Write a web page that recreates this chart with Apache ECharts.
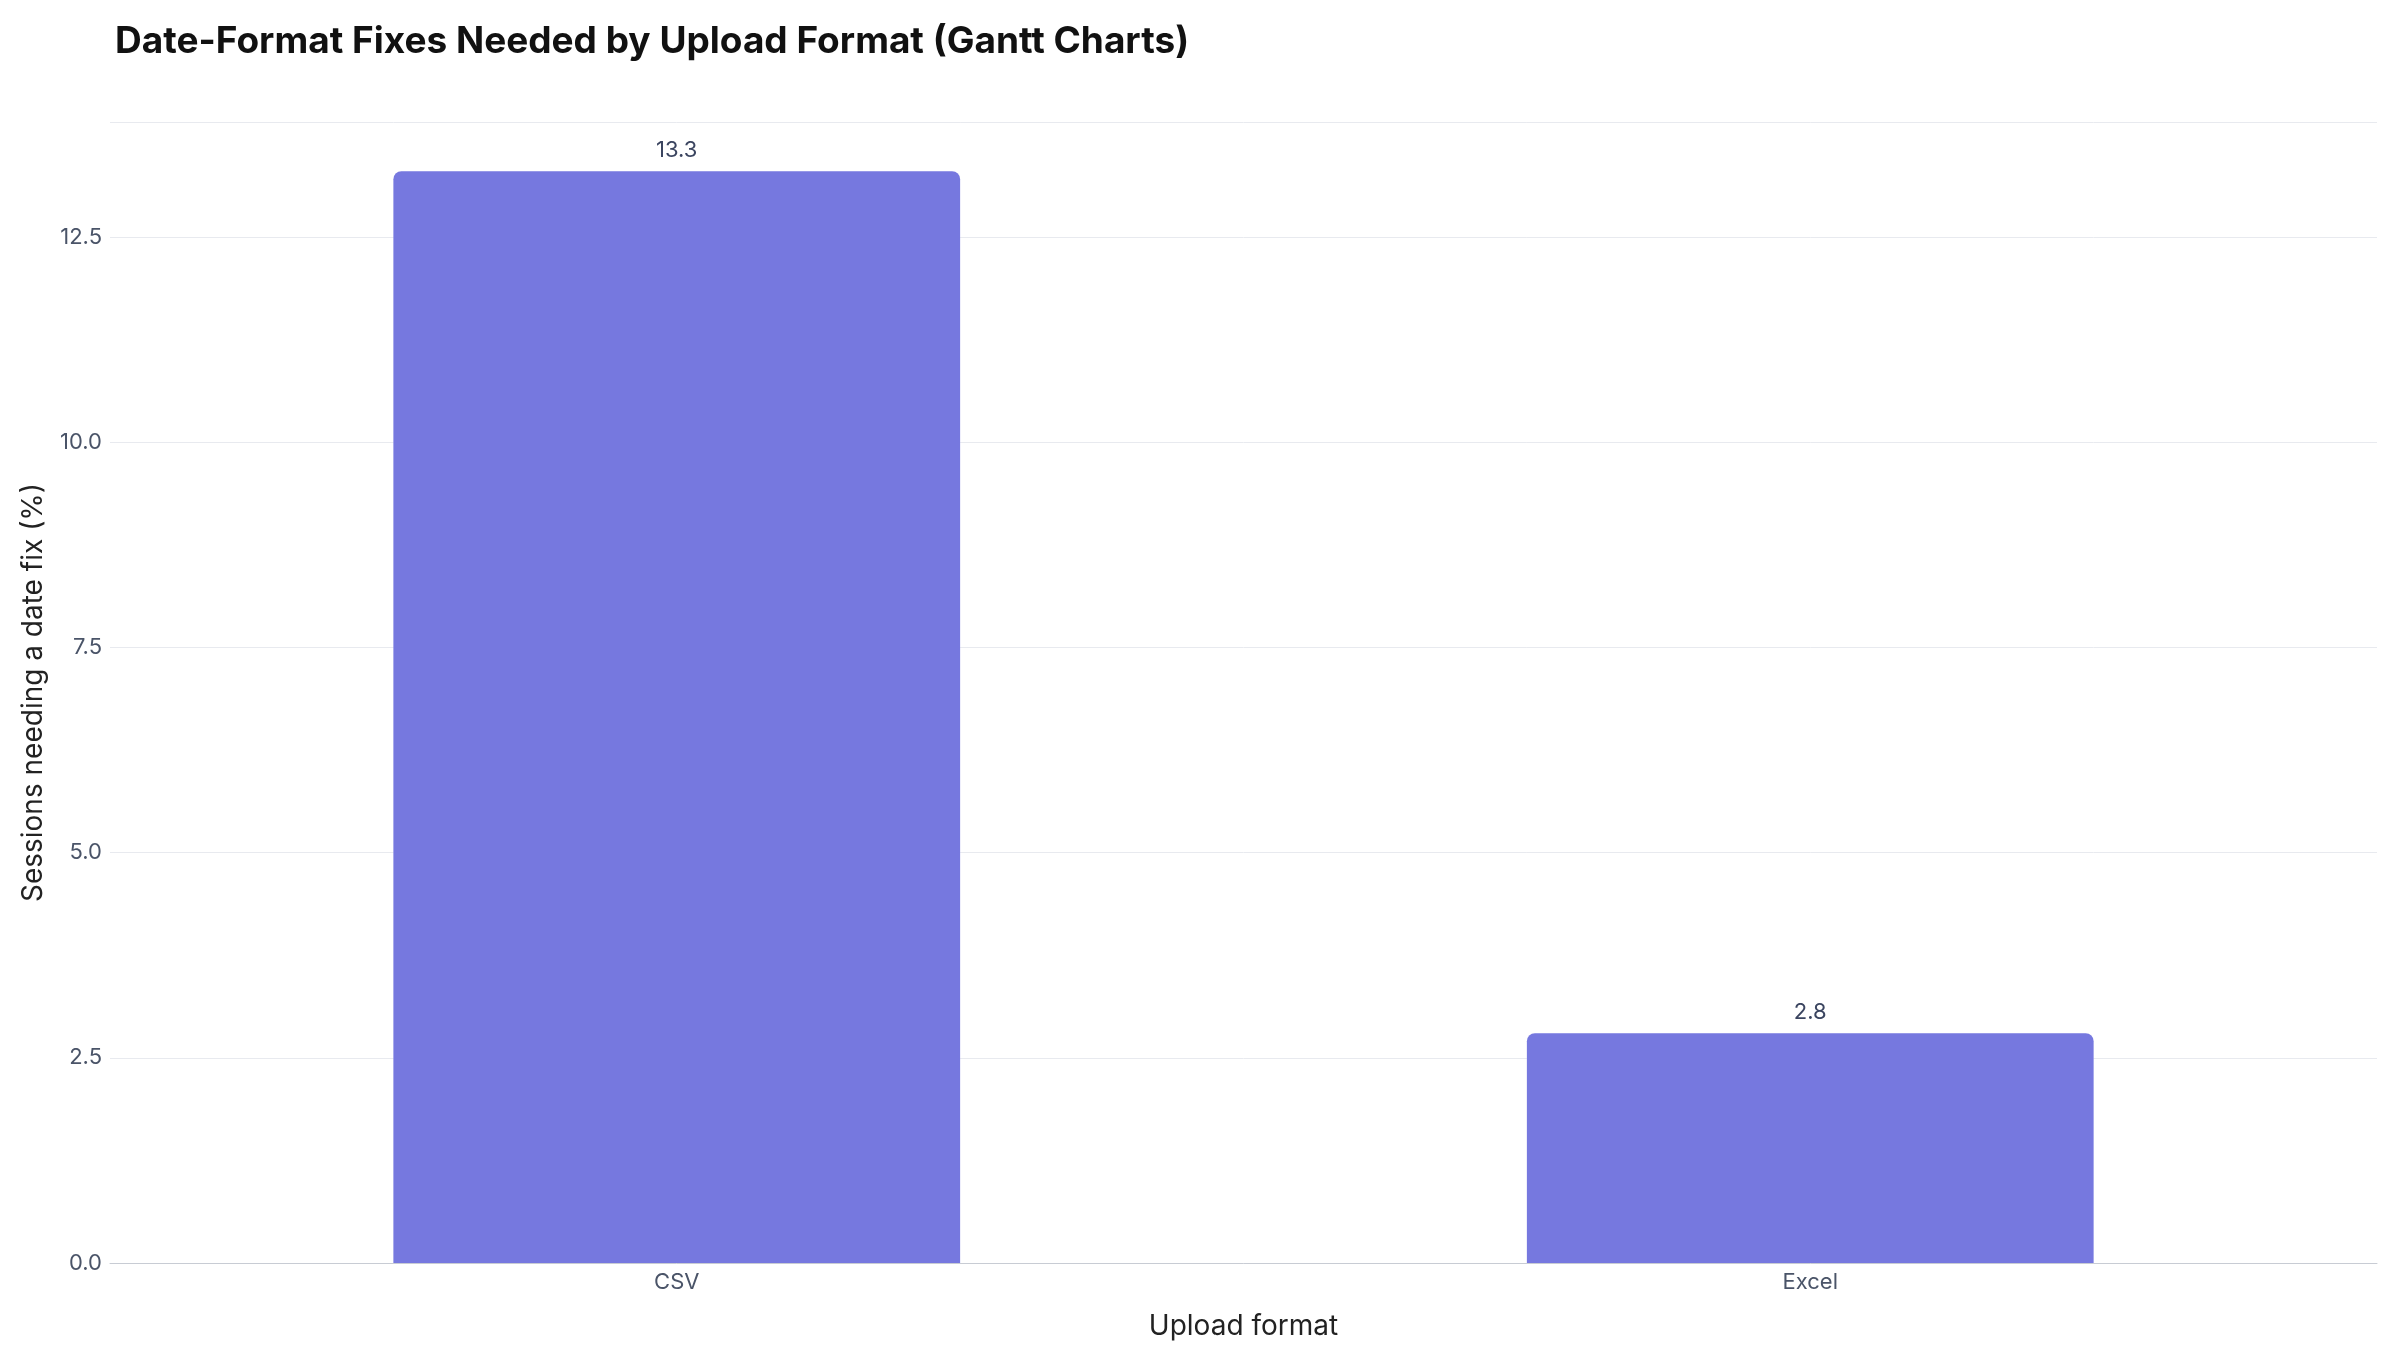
<!DOCTYPE html>
<html><head><meta charset="utf-8">
<script src="https://cdn.jsdelivr.net/npm/echarts@6/dist/echarts.min.js"></script>
<style>html,body{margin:0;padding:0;background:#fff}#c{width:2400px;height:1350px}</style>
</head><body><div id="c"></div>
<script>
const categories = ["CSV", "Excel"];
const values = [13.3, 2.8];
const chart = echarts.init(document.getElementById('c'));
chart.setOption({
  backgroundColor: '#fff',
  textStyle: { fontFamily: 'Inter' },
  title: { text: 'Date-Format Fixes Needed by Upload Format (Gantt Charts)', left: 110, top: 18,
    textStyle: { fontFamily: 'Inter', fontWeight: 'bold', fontSize: 37, color: '#111' } },
  grid: { left: 110, right: 23, top: 122, bottom: 87 },
  xAxis: { type: 'category', data: categories, name: 'Upload format', nameLocation: 'middle', nameGap: 50,
    nameTextStyle: { fontSize: 28, color: '#222' },
    axisLine: { lineStyle: { color: '#c8ccd4' } }, axisTick: { show: false },
    axisLabel: { fontSize: 22, color: '#4a5468', margin: 8 } },
  yAxis: { type: 'value', min: 0, max: 13.9, interval: 2.5, name: 'Sessions needing a date fix (%)',
    nameLocation: 'middle', nameGap: 62, nameTextStyle: { fontSize: 28, color: '#222' },
    axisLabel: { fontSize: 22, color: '#4a5468', formatter: v => v.toFixed(1), showMaxLabel: false },
    splitLine: { lineStyle: { color: '#e8eaef' } }, axisLine: { show: false } },
  series: [{ type: 'bar', data: values, barWidth: '50%',
    itemStyle: { color: '#7678df', borderRadius: [8, 8, 0, 0] },
    label: { show: true, position: 'top', fontSize: 22, color: '#3b4560', distance: 10, formatter: p => p.value.toFixed(1) } }]
});
</script></body></html>
